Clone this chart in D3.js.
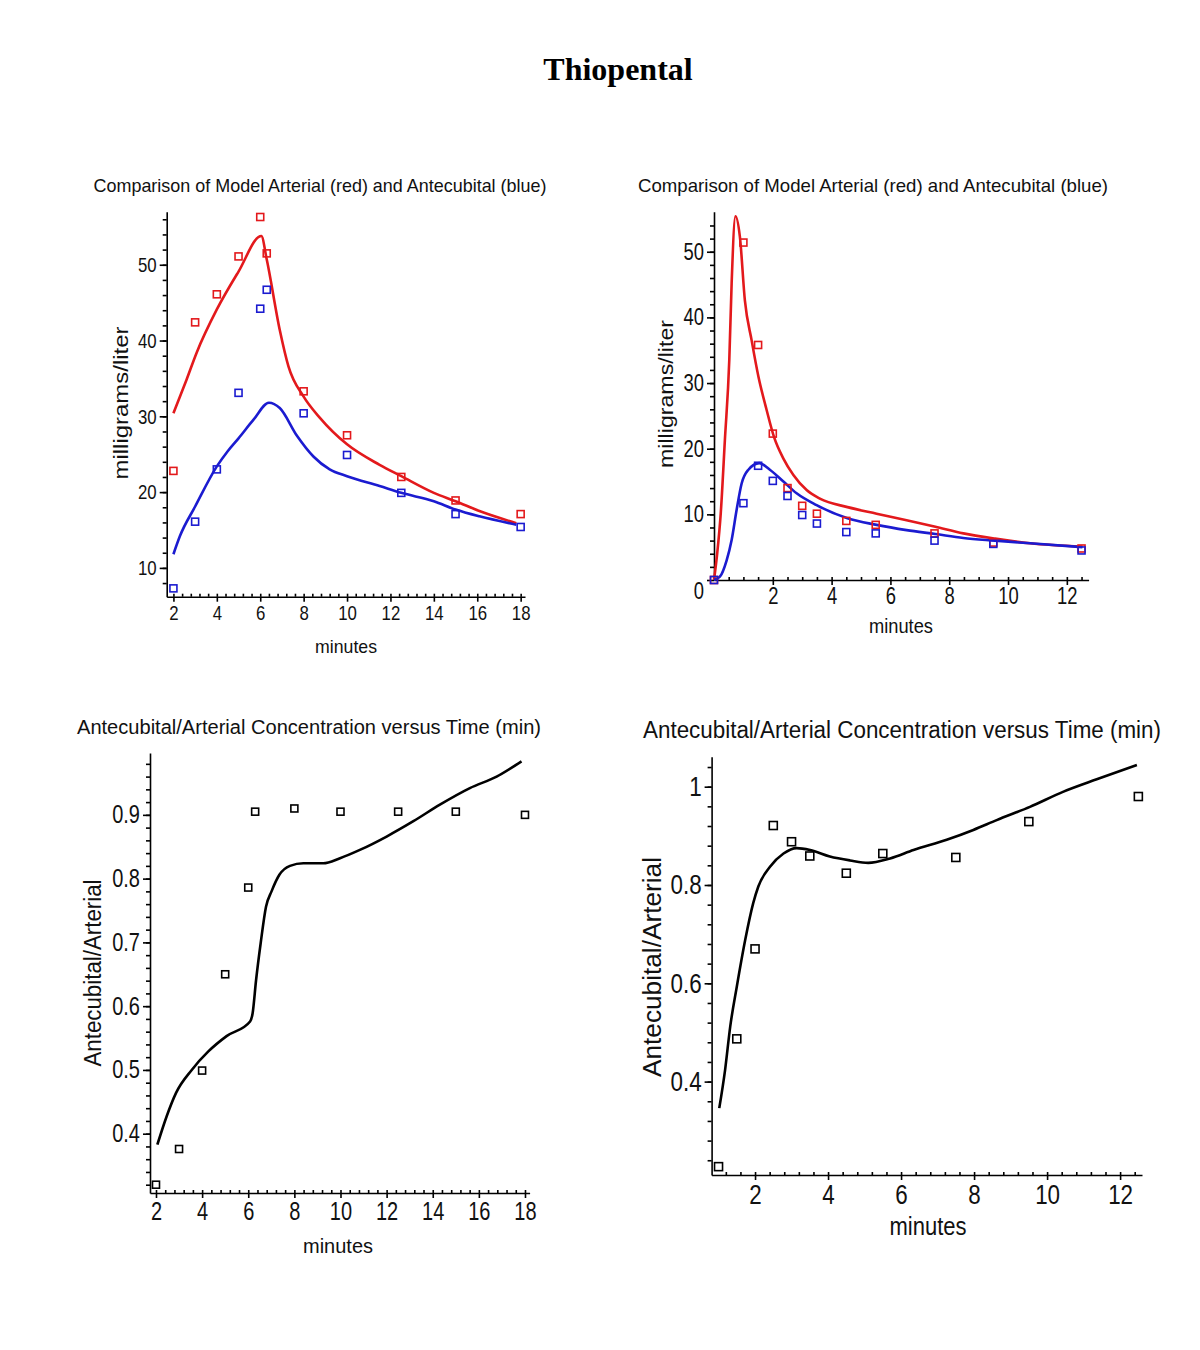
<!DOCTYPE html>
<html lang="en">
<head>
<meta charset="utf-8">
<title>Thiopental</title>
<script src="https://cdnjs.cloudflare.com/ajax/libs/d3/7.8.5/d3.min.js"></script>
<style>
  html, body { margin: 0; padding: 0; background: #fff; }
  svg { display: block; }
  .narrow { font-family: "Liberation Sans Narrow", "Arial Narrow", "Liberation Sans", sans-serif; fill: #111; }
  .axis path, .axis line { stroke: #000; stroke-width: 1.6; }
</style>
</head>
<body>
<div id="chart"></div>
<script>
// ---------- data ----------
// panel 1: slow infusion, concentrations (mg/l)
const p1Time = [2, 3, 4, 5, 6, 6.3, 8, 10, 12.5, 15, 18];
const p1Arterial = [22.8, 42.4, 46.1, 51.1, 56.3, 51.5, 33.3, 27.5, 22.0, 18.9, 17.1];
const p1Antecubital = [7.3, 16.1, 23.0, 33.1, 44.2, 46.7, 30.4, 24.9, 19.9, 17.1, 15.4];
const p1ArtFitT = [2, 2.6, 3.07, 4, 5, 6.05, 6.3, 6.9, 7.3, 8, 8.75, 10, 11.5, 12.5, 14, 15, 16.1, 17.8];
const p1ArtFit = [30.4, 34.8, 38.4, 44.1, 49.1, 53.8, 50.7, 41.4, 36.6, 32.6, 29.8, 26.3, 23.6, 22.1, 19.9, 18.8, 17.5, 15.9];
const p1AntFitT = [2, 2.3, 3, 4, 4.5, 5, 5.7, 6.4, 6.9, 7.7, 8.45, 9.2, 10, 11.5, 12.5, 14, 15, 16.1, 17.8];
const p1AntFit = [11.8, 14.2, 18.1, 23.4, 25.4, 27.1, 29.6, 31.8, 31.1, 27.4, 24.7, 23.0, 22.1, 20.8, 19.9, 18.8, 17.7, 16.8, 15.7];

// panel 2: bolus, concentrations (mg/l)
const p2Time = [0, 1, 1.5, 2, 2.5, 3, 3.5, 4.5, 5.5, 7.5, 9.5, 12.5];
const p2Arterial = [0, 51.4, 35.8, 22.3, 14.0, 11.3, 10.1, 9.0, 8.4, 7.1, 5.7, 4.8];
const p2Antecubital = [0, 11.7, 17.4, 15.1, 12.8, 9.9, 8.6, 7.3, 7.1, 6.0, 5.5, 4.5];
const p2ArtFitT = [0, 0.11, 0.23, 0.37, 0.52, 0.6, 0.73, 0.88, 1.05, 1.28, 1.51, 1.79, 2.04, 2.36, 2.7, 3.15, 3.6, 4.54, 5.53, 6.55, 7.53, 8.48, 9.56, 10.75, 12.53];
const p2ArtFit = [0, 4.1, 10.2, 21.3, 33.5, 45.2, 55.4, 52.3, 42.6, 36.5, 31, 25.9, 21.8, 18.5, 16, 13.7, 12.4, 11.1, 10.1, 9.1, 8.1, 7.1, 6.3, 5.6, 5.1];
const p2AntFitT = [0, 0.2, 0.43, 0.6, 0.77, 0.94, 1.17, 1.54, 1.9, 2.36, 2.81, 3.49, 4.54, 5.53, 6.55, 7.53, 8.48, 9.56, 10.75, 12.53];
const p2AntFit = [0, 0.5, 3.0, 6.1, 10.7, 14.7, 16.8, 17.8, 16.8, 15.0, 13.2, 11.4, 9.4, 8.4, 7.6, 7.0, 6.4, 6.0, 5.6, 5.0];

// panel 3: ratio for panel 1 data
const p3Ratio = [0.32, 0.376, 0.499, 0.650, 0.786, 0.905, 0.910, 0.905, 0.905, 0.905, 0.900];
const p3FitT = [2.06, 2.46, 2.87, 3.55, 4.27, 5.06, 6.08, 6.19, 6.34, 6.54, 6.77, 7.01, 7.35, 7.81, 8.39, 9.25, 9.98, 10.84, 12.0, 13.16, 14.31, 15.61, 16.77, 17.85];
const p3Fit = [0.383, 0.427, 0.464, 0.500, 0.529, 0.553, 0.576, 0.589, 0.641, 0.699, 0.756, 0.780, 0.806, 0.820, 0.824, 0.824, 0.832, 0.845, 0.866, 0.890, 0.916, 0.942, 0.960, 0.984];

// panel 4: ratio for panel 2 data
const p4Time = [1, 1.5, 2, 2.5, 3, 3.5, 4.5, 5.5, 7.5, 9.5, 12.5];
const p4Ratio = [0.227, 0.487, 0.670, 0.921, 0.888, 0.859, 0.824, 0.864, 0.856, 0.929, 0.980];
const p4FitT = [1.02, 1.18, 1.32, 1.5, 1.73, 1.95, 2.09, 2.41, 2.78, 3.14, 3.51, 4.05, 4.6, 5.1, 5.7, 6.34, 7.25, 7.98, 8.62, 9.53, 10.45, 11.36, 12.46];
const p4Fit = [0.346, 0.424, 0.512, 0.593, 0.688, 0.763, 0.797, 0.837, 0.864, 0.875, 0.871, 0.858, 0.850, 0.845, 0.854, 0.871, 0.892, 0.912, 0.932, 0.959, 0.990, 1.015, 1.044];

// tick labels
const p1XTicks = [2, 4, 6, 8, 10, 12, 14, 16, 18];
const p1YTicks = [10, 20, 30, 40, 50];
const p2XTicks = [2, 4, 6, 8, 10, 12];
const p2YTicks = [0, 10, 20, 30, 40, 50];
const p3XTicks = [2, 4, 6, 8, 10, 12, 14, 16, 18];
const p3YTicks = [0.4, 0.5, 0.6, 0.7, 0.8, 0.9];
const p4XTicks = [2, 4, 6, 8, 10, 12];
const p4YTicks = [0.4, 0.6, 0.8, 1];

const RED = "#e3191c", BLUE = "#1b1bd0", BLACK = "#000";
const SQUEEZE = 0.8; // labels in the original are a condensed face

const svg = d3.select("#chart").append("svg")
  .attr("width", 1200).attr("height", 1350);

svg.append("text")
  .attr("x", 618).attr("y", 80)
  .attr("text-anchor", "middle")
  .style("font", "bold 32px 'Liberation Serif', 'Times New Roman', serif")
  .text("Thiopental");

const zip = (a, b) => a.map((v, i) => [v, b[i]]);

function squeeze(sel) {
  sel.each(function() {
    const len = this.getComputedTextLength();
    d3.select(this).attr("textLength", len * SQUEEZE).attr("lengthAdjust", "spacingAndGlyphs");
  });
}

// draws one Maple-style panel
function panel(cfg) {
  const x = d3.scaleLinear().domain(cfg.xDom).range(cfg.xRange);
  const y = d3.scaleLinear().domain(cfg.yDom).range(cfg.yRange);
  const g = svg.append("g");

  // minor ticks
  g.append("g").attr("class", "axis")
    .attr("transform", "translate(0," + cfg.yRange[0] + ")")
    .call(d3.axisBottom(x).tickValues(cfg.xMinor).tickSize(-3).tickFormat(""))
    .select(".domain").remove();
  g.append("g").attr("class", "axis")
    .attr("transform", "translate(" + cfg.xRange[0] + ",0)")
    .call(d3.axisLeft(y).tickValues(cfg.yMinor).tickSize(4).tickFormat(""))
    .select(".domain").remove();

  // major axes
  const xa = g.append("g").attr("class", "axis")
    .attr("transform", "translate(0," + cfg.yRange[0] + ")")
    .call(d3.axisBottom(x).tickValues(cfg.xTicks).tickSize(5).tickSizeOuter(0).tickPadding(cfg.xPad));
  xa.selectAll("text").attr("class", "narrow").style("font-size", cfg.tickFont + "px").attr("fill", "#111")
    .call(squeeze);

  const ya = g.append("g").attr("class", "axis")
    .attr("transform", "translate(" + cfg.xRange[0] + ",0)")
    .call(d3.axisLeft(y).tickValues(cfg.yTicks).tickSize(7).tickSizeOuter(0).tickPadding(cfg.yPad)
      .tickFormat(cfg.yFmt || (d => d)));
  ya.selectAll("text").attr("class", "narrow").style("font-size", cfg.tickFont + "px").attr("fill", "#111")
    .call(squeeze);
  if (cfg.zeroShift) ya.selectAll("text").filter(d => d === 0).attr("dy", "0.8em");

  // fitted curves
  const line = d3.line().x(d => x(d[0])).y(d => y(d[1])).curve(d3.curveMonotoneX);
  cfg.lines.forEach(l => {
    g.append("path").datum(zip(l.t, l.v))
      .attr("d", line).attr("fill", "none")
      .attr("stroke", l.color).attr("stroke-width", 2.6)
      .attr("stroke-linejoin", "round");
  });

  // measured points
  const s = cfg.box;
  cfg.points.forEach(p => {
    g.append("g").selectAll("rect").data(zip(p.t, p.v)).join("rect")
      .attr("x", d => x(d[0]) - s / 2).attr("y", d => y(d[1]) - s / 2)
      .attr("width", s).attr("height", s)
      .attr("fill", "none").attr("stroke", p.color).attr("stroke-width", 1.6);
  });

  // texts
  g.append("text").attr("class", "narrow")
    .attr("x", cfg.title.x).attr("y", cfg.title.y).attr("text-anchor", "middle")
    .attr("textLength", cfg.title.w).attr("lengthAdjust", "spacingAndGlyphs")
    .style("font-size", cfg.title.size + "px").text(cfg.title.text);
  g.append("text").attr("class", "narrow")
    .attr("x", cfg.xLabel.x).attr("y", cfg.xLabel.y).attr("text-anchor", "middle")
    .attr("textLength", cfg.xLabel.w).attr("lengthAdjust", "spacingAndGlyphs")
    .style("font-size", cfg.xLabel.size + "px").text("minutes");
  g.append("text").attr("class", "narrow")
    .attr("transform", "translate(" + cfg.yLabel.x + "," + cfg.yLabel.y + ") rotate(-90)")
    .attr("text-anchor", "middle")
    .attr("textLength", cfg.yLabel.w).attr("lengthAdjust", "spacingAndGlyphs")
    .style("font-size", cfg.yLabel.size + "px").text(cfg.yLabel.text);
}

panel({
  xDom: [1.69, 18.2], xRange: [166.7, 525],
  yDom: [6.2, 57], yRange: [596.7, 211.7],
  xTicks: p1XTicks, yTicks: p1YTicks,
  xMinor: d3.range(2, 18.01, 0.4), yMinor: d3.range(8, 57, 2),
  tickFont: 21, xPad: 3, yPad: 3, box: 7,
  lines: [{ t: p1ArtFitT, v: p1ArtFit, color: RED }, { t: p1AntFitT, v: p1AntFit, color: BLUE }],
  points: [{ t: p1Time, v: p1Arterial, color: RED }, { t: p1Time, v: p1Antecubital, color: BLUE }],
  title: { text: "Comparison of Model Arterial (red) and Antecubital (blue)", x: 320, y: 192, w: 453, size: 19 },
  xLabel: { x: 346, y: 653, w: 62, size: 19 },
  yLabel: { text: "milligrams/liter", x: 128, y: 403, w: 153, size: 20 }
});

panel({
  xDom: [0, 12.74], xRange: [714, 1088.6],
  yDom: [0, 56.1], yRange: [580, 211.7],
  xTicks: p2XTicks, yTicks: p2YTicks,
  xMinor: d3.range(0.5, 12.7, 0.5), yMinor: d3.range(2, 56, 2),
  tickFont: 23, xPad: 3, yPad: 3, box: 7, zeroShift: true,
  lines: [{ t: p2ArtFitT, v: p2ArtFit, color: RED }, { t: p2AntFitT, v: p2AntFit, color: BLUE }],
  points: [{ t: p2Time, v: p2Arterial, color: RED }, { t: p2Time, v: p2Antecubital, color: BLUE }],
  title: { text: "Comparison of Model Arterial (red) and Antecubital (blue)", x: 873, y: 192, w: 470, size: 19 },
  xLabel: { x: 901, y: 633, w: 64, size: 20 },
  yLabel: { text: "milligrams/liter", x: 673, y: 394, w: 148, size: 20 }
});

panel({
  xDom: [1.74, 18.2], xRange: [150, 529.6],
  yDom: [0.307, 0.997], yRange: [1193, 753],
  xTicks: p3XTicks, yTicks: p3YTicks,
  xMinor: d3.range(2, 18.01, 0.4), yMinor: d3.range(0.32, 0.997, 0.02),
  tickFont: 25, xPad: 4, yPad: 3, box: 7,
  yFmt: d3.format(".1f"),
  lines: [{ t: p3FitT, v: p3Fit, color: BLACK }],
  points: [{ t: p1Time, v: p3Ratio, color: BLACK }],
  title: { text: "Antecubital/Arterial Concentration versus Time (min)", x: 309, y: 734, w: 464, size: 20 },
  xLabel: { x: 338, y: 1253, w: 70, size: 21 },
  yLabel: { text: "Antecubital/Arterial", x: 101, y: 973, w: 187, size: 23 }
});

panel({
  xDom: [0.81, 12.6], xRange: [711.6, 1142],
  yDom: [0.21, 1.061], yRange: [1175, 756.7],
  xTicks: p4XTicks, yTicks: p4YTicks,
  xMinor: d3.range(1.2, 12.6, 0.4), yMinor: d3.range(0.24, 1.06, 0.04),
  tickFont: 28, xPad: 4, yPad: 3, box: 8,
  yFmt: d => (d === 1 ? "1" : d3.format(".1f")(d)),
  lines: [{ t: p4FitT, v: p4Fit, color: BLACK }],
  points: [{ t: p4Time, v: p4Ratio, color: BLACK }],
  title: { text: "Antecubital/Arterial Concentration versus Time (min)", x: 902, y: 738, w: 518, size: 23 },
  xLabel: { x: 928, y: 1235, w: 77, size: 25 },
  yLabel: { text: "Antecubital/Arterial", x: 661, y: 967, w: 220, size: 26 }
});
</script>
</body>
</html>
